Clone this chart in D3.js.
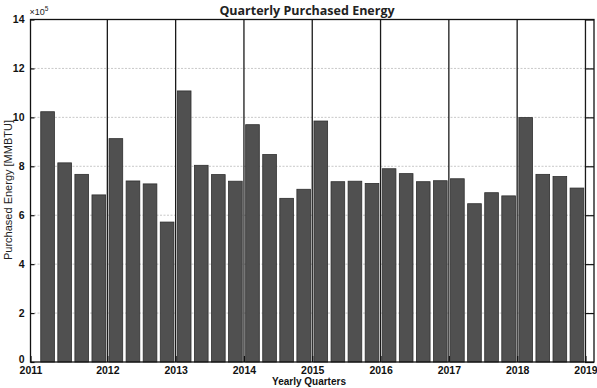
<!DOCTYPE html>
<html>
<head>
<meta charset="utf-8">
<script src="https://cdn.jsdelivr.net/npm/d3@7/dist/d3.min.js"></script>
<style>
  html, body { margin: 0; padding: 0; background: #fff; }
  svg { display: block; }
</style>
</head>
<body>
<svg id="chart" width="597" height="388"></svg>
<script>
// ---- data ----
const quarters = [
  "2011 Q1","2011 Q2","2011 Q3","2011 Q4",
  "2012 Q1","2012 Q2","2012 Q3","2012 Q4",
  "2013 Q1","2013 Q2","2013 Q3","2013 Q4",
  "2014 Q1","2014 Q2","2014 Q3","2014 Q4",
  "2015 Q1","2015 Q2","2015 Q3","2015 Q4",
  "2016 Q1","2016 Q2","2016 Q3","2016 Q4",
  "2017 Q1","2017 Q2","2017 Q3","2017 Q4",
  "2018 Q1","2018 Q2","2018 Q3","2018 Q4"
];
const purchasedEnergy = [
  1023000, 814000, 767000, 683000,
  913000, 740000, 728000, 572000,
  1108000, 804000, 766000, 739000,
  970000, 848000, 669000, 706000,
  985000, 737000, 739000, 730000,
  790000, 770000, 737000, 741000,
  749000, 647000, 692000, 679000,
  999000, 767000, 758000, 711000
];
const yearTickLabels = ["2011","2012","2013","2014","2015","2016","2017","2018","2019"];
const yearTickPositions = [0, 4.5, 8.5, 12.5, 16.5, 20.5, 24.5, 28.5, 32.5];
const yTicks = [0, 200000, 400000, 600000, 800000, 1000000, 1200000, 1400000];

// ---- layout ----
const svg = d3.select("#chart");
const m = { left: 30.5, right: 594, top: 19.5, bottom: 362 };

const x = d3.scaleLinear().domain([0, 33]).range([m.left, m.right]);
const y = d3.scaleLinear().domain([0, 1400000]).range([m.bottom, m.top]);
const step = x(1) - x(0);
const barW = step * 0.8;

// horizontal grid
svg.append("g").selectAll("line")
  .data(yTicks.slice(1, -1))
  .join("line")
  .attr("x1", m.left).attr("x2", m.right)
  .attr("y1", d => y(d)).attr("y2", d => y(d))
  .attr("stroke", "#c8c8c8").attr("stroke-width", 1)
  .attr("stroke-dasharray", "2,1.5");

// bars
svg.append("g").selectAll("rect")
  .data(purchasedEnergy)
  .join("rect")
  .attr("x", (d, i) => x(i + 1) - barW / 2)
  .attr("width", barW)
  .attr("y", d => y(d))
  .attr("height", d => y(0) - y(d))
  .attr("fill", "#505050")
  .attr("stroke", "#2e2e2e")
  .attr("stroke-width", 0.8);

// vertical year lines
svg.append("g").selectAll("line")
  .data(yearTickPositions.slice(1))
  .join("line")
  .attr("x1", d => x(d)).attr("x2", d => x(d))
  .attr("y1", m.top).attr("y2", m.bottom)
  .attr("stroke", "#1a1a1a").attr("stroke-width", 1.3);

// axes
const yAxisL = d3.axisLeft(y).tickValues(yTicks).tickSize(-4).tickPadding(6)
  .tickFormat(d => d / 100000);
const yAxisR = d3.axisRight(y).tickValues(yTicks).tickSize(-9).tickFormat("");
const xAxisB = d3.axisBottom(x).tickValues(yearTickPositions).tickSize(-6).tickPadding(5)
  .tickFormat((d, i) => yearTickLabels[i]);

function styleAxis(g, fs) {
  g.select(".domain").remove();
  g.selectAll("line").attr("stroke", "#111").attr("stroke-width", 1.2);
  g.selectAll("text")
    .attr("font-family", "Liberation Sans, Arial, sans-serif")
    .attr("font-size", fs).attr("font-weight", "bold").attr("fill", "#111");
}

const gy = svg.append("g").attr("transform", `translate(${m.left},0)`).call(yAxisL).call(styleAxis, 10.5);
gy.selectAll(".tick text").filter(d => d === 0).attr("dy", "0.05em");
svg.append("g").attr("transform", `translate(${m.right},0)`).call(yAxisR).call(styleAxis, 10.5);
svg.append("g").attr("transform", `translate(0,${m.bottom})`).call(xAxisB).call(styleAxis, 10.5);

// box
svg.append("rect")
  .attr("x", m.left).attr("y", m.top)
  .attr("width", m.right - m.left).attr("height", m.bottom - m.top)
  .attr("fill", "none").attr("stroke", "#111").attr("stroke-width", 1.3);

// exponent label
const ex = svg.append("text")
  .attr("x", m.left - 1).attr("y", 15)
  .attr("font-family", "Liberation Sans, Arial, sans-serif")
  .attr("font-size", 9).attr("fill", "#222");
ex.append("tspan").text("\u00d710");
ex.append("tspan").attr("dy", -4).attr("font-size", 6.5).text("5");

// title
svg.append("text")
  .attr("x", 307).attr("y", 15)
  .attr("text-anchor", "middle")
  .attr("font-family", "Open Sans, Liberation Sans, sans-serif")
  .attr("font-size", 12.5).attr("font-weight", "bold").attr("fill", "#222")
  .text("Quarterly Purchased Energy");

// x label
svg.append("text")
  .attr("x", 309).attr("y", 385)
  .attr("text-anchor", "middle")
  .attr("font-family", "Liberation Sans, Arial, sans-serif")
  .attr("font-size", 10).attr("font-weight", "bold").attr("fill", "#111")
  .text("Yearly Quarters");

// y label
svg.append("text")
  .attr("transform", "translate(12,190) rotate(-90)")
  .attr("text-anchor", "middle")
  .attr("font-family", "Liberation Sans, Arial, sans-serif")
  .attr("font-size", 11).attr("fill", "#222")
  .text("Purchased Energy [MMBTU]");
</script>
</body>
</html>
